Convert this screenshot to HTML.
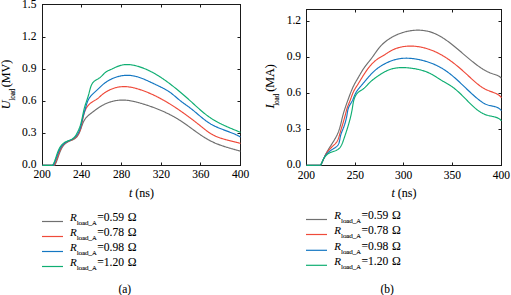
<!DOCTYPE html>
<html><head><meta charset="utf-8"><style>
html,body{margin:0;padding:0;background:#fff;}
body{width:511px;height:295px;overflow:hidden;position:relative;}
svg{position:absolute;left:0;top:0;}
text{font-family:"Liberation Serif",serif;fill:#000;stroke:#000;stroke-width:0.08px;}
</style></head><body>
<svg width="511" height="295" viewBox="0 0 511 295">
<rect x="42.5" y="4.5" width="198.0" height="161.0" fill="none" stroke="#1a1a1a" stroke-width="1"/>
<path d="M81.5,165.5 v-3 M81.5,4.5 v3" stroke="#1a1a1a" stroke-width="1"/>
<path d="M121.5,165.5 v-3 M121.5,4.5 v3" stroke="#1a1a1a" stroke-width="1"/>
<path d="M161.5,165.5 v-3 M161.5,4.5 v3" stroke="#1a1a1a" stroke-width="1"/>
<path d="M200.5,165.5 v-3 M200.5,4.5 v3" stroke="#1a1a1a" stroke-width="1"/>
<path d="M42.5,133.5 h3 M240.5,133.5 h-3" stroke="#1a1a1a" stroke-width="1"/>
<path d="M42.5,101.5 h3 M240.5,101.5 h-3" stroke="#1a1a1a" stroke-width="1"/>
<path d="M42.5,69.5 h3 M240.5,69.5 h-3" stroke="#1a1a1a" stroke-width="1"/>
<path d="M42.5,37.5 h3 M240.5,37.5 h-3" stroke="#1a1a1a" stroke-width="1"/>
<rect x="306.5" y="9.5" width="195.0" height="156.0" fill="none" stroke="#1a1a1a" stroke-width="1"/>
<path d="M355.5,165.5 v-3 M355.5,9.5 v3" stroke="#1a1a1a" stroke-width="1"/>
<path d="M403.5,165.5 v-3 M403.5,9.5 v3" stroke="#1a1a1a" stroke-width="1"/>
<path d="M452.5,165.5 v-3 M452.5,9.5 v3" stroke="#1a1a1a" stroke-width="1"/>
<path d="M306.5,129.5 h3 M501.5,129.5 h-3" stroke="#1a1a1a" stroke-width="1"/>
<path d="M306.5,93.5 h3 M501.5,93.5 h-3" stroke="#1a1a1a" stroke-width="1"/>
<path d="M306.5,57.5 h3 M501.5,57.5 h-3" stroke="#1a1a1a" stroke-width="1"/>
<path d="M306.5,21.5 h3 M501.5,21.5 h-3" stroke="#1a1a1a" stroke-width="1"/>
<path d="M42.50,165.30 L54.77,165.26 L55.07,164.73 L55.35,164.18 L55.62,163.62 L55.88,163.04 L56.14,162.46 L56.39,161.86 L56.63,161.25 L56.86,160.64 L57.09,160.01 L57.32,159.38 L57.54,158.75 L57.77,158.11 L57.99,157.46 L58.21,156.81 L58.43,156.17 L58.66,155.52 L58.88,154.87 L59.11,154.22 L59.35,153.58 L59.59,152.94 L59.83,152.30 L60.09,151.67 L60.35,151.05 L60.62,150.43 L60.90,149.82 L61.19,149.22 L61.49,148.64 L61.81,148.06 L62.14,147.50 L62.48,146.95 L62.84,146.42 L63.22,145.90 L63.61,145.40 L64.02,144.92 L64.45,144.45 L64.90,144.01 L65.37,143.59 L65.86,143.18 L66.38,142.81 L66.92,142.45 L67.48,142.12 L68.06,141.81 L68.66,141.52 L69.27,141.24 L69.89,140.97 L70.52,140.71 L71.14,140.44 L71.77,140.17 L72.39,139.90 L72.99,139.62 L73.59,139.32 L74.16,139.00 L74.72,138.66 L75.25,138.29 L75.75,137.90 L76.22,137.47 L76.66,137.01 L77.08,136.53 L77.47,136.02 L77.84,135.50 L78.19,134.95 L78.52,134.39 L78.83,133.81 L79.12,133.22 L79.40,132.62 L79.66,132.01 L79.92,131.39 L80.16,130.76 L80.40,130.12 L80.63,129.48 L80.85,128.84 L81.08,128.19 L81.30,127.55 L81.52,126.90 L81.74,126.25 L81.97,125.61 L82.20,124.97 L82.43,124.33 L82.68,123.70 L82.93,123.08 L83.20,122.47 L83.48,121.86 L83.77,121.27 L84.08,120.69 L84.41,120.12 L84.76,119.57 L85.12,119.03 L85.50,118.50 L85.89,117.99 L86.31,117.49 L86.74,117.01 L87.18,116.54 L87.65,116.09 L88.13,115.65 L88.62,115.22 L89.13,114.80 L89.64,114.39 L90.16,113.98 L90.68,113.58 L91.21,113.18 L91.73,112.78 L92.26,112.37 L92.79,111.97 L93.31,111.57 L93.84,111.17 L94.37,110.77 L94.90,110.37 L95.43,109.98 L95.96,109.58 L96.50,109.19 L97.04,108.81 L97.58,108.43 L98.12,108.05 L98.67,107.68 L99.22,107.32 L99.78,106.96 L100.34,106.60 L100.90,106.26 L101.47,105.92 L102.04,105.59 L102.62,105.27 L103.20,104.95 L103.79,104.65 L104.39,104.35 L104.99,104.07 L105.59,103.79 L106.20,103.52 L106.81,103.26 L107.43,103.01 L108.05,102.77 L108.68,102.54 L109.30,102.32 L109.93,102.11 L110.57,101.91 L111.21,101.72 L111.85,101.53 L112.49,101.36 L113.13,101.20 L113.78,101.05 L114.43,100.91 L115.08,100.78 L115.73,100.66 L116.38,100.55 L117.04,100.45 L117.69,100.36 L118.35,100.29 L119.01,100.22 L119.66,100.16 L120.32,100.12 L120.98,100.09 L121.64,100.07 L122.29,100.06 L122.95,100.06 L123.61,100.07 L124.26,100.09 L124.92,100.13 L125.57,100.17 L126.22,100.22 L126.88,100.28 L127.53,100.35 L128.18,100.43 L128.84,100.52 L129.49,100.61 L130.14,100.72 L130.79,100.83 L131.44,100.95 L132.09,101.07 L132.74,101.20 L133.38,101.34 L134.03,101.48 L134.68,101.63 L135.32,101.79 L135.97,101.95 L136.61,102.11 L137.26,102.28 L137.90,102.45 L138.54,102.63 L139.19,102.81 L139.83,102.99 L140.47,103.18 L141.11,103.37 L141.75,103.56 L142.39,103.75 L143.02,103.95 L143.66,104.14 L144.29,104.34 L144.93,104.54 L145.56,104.74 L146.20,104.95 L146.83,105.16 L147.46,105.36 L148.09,105.57 L148.72,105.79 L149.35,106.00 L149.98,106.22 L150.60,106.43 L151.23,106.66 L151.85,106.88 L152.47,107.10 L153.10,107.33 L153.72,107.56 L154.34,107.79 L154.96,108.02 L155.58,108.26 L156.19,108.50 L156.81,108.74 L157.42,108.98 L158.04,109.23 L158.65,109.48 L159.26,109.73 L159.87,109.98 L160.48,110.23 L161.08,110.49 L161.69,110.75 L162.29,111.02 L162.90,111.28 L163.50,111.55 L164.10,111.82 L164.70,112.09 L165.30,112.37 L165.89,112.65 L166.49,112.93 L167.08,113.22 L167.67,113.50 L168.27,113.79 L168.85,114.09 L169.44,114.38 L170.03,114.68 L170.61,114.98 L171.20,115.29 L171.78,115.60 L172.36,115.91 L172.94,116.22 L173.51,116.54 L174.09,116.86 L174.66,117.18 L175.23,117.51 L175.81,117.84 L176.37,118.17 L176.94,118.51 L177.51,118.85 L178.07,119.19 L178.63,119.54 L179.19,119.89 L179.75,120.24 L180.31,120.60 L180.86,120.96 L181.41,121.32 L181.97,121.68 L182.52,122.05 L183.06,122.42 L183.61,122.80 L184.16,123.17 L184.70,123.55 L185.25,123.93 L185.79,124.31 L186.33,124.70 L186.87,125.08 L187.41,125.47 L187.95,125.86 L188.49,126.25 L189.03,126.64 L189.57,127.03 L190.11,127.42 L190.64,127.82 L191.18,128.21 L191.72,128.60 L192.25,128.99 L192.79,129.39 L193.33,129.78 L193.87,130.17 L194.40,130.56 L194.94,130.95 L195.48,131.34 L196.02,131.73 L196.56,132.12 L197.10,132.50 L197.64,132.89 L198.19,133.27 L198.73,133.65 L199.28,134.03 L199.82,134.40 L200.37,134.78 L200.92,135.15 L201.47,135.52 L202.02,135.88 L202.57,136.25 L203.13,136.61 L203.68,136.96 L204.24,137.31 L204.80,137.66 L205.36,138.01 L205.93,138.35 L206.49,138.69 L207.06,139.02 L207.63,139.35 L208.20,139.67 L208.78,139.99 L209.36,140.31 L209.94,140.62 L210.52,140.92 L211.11,141.22 L211.70,141.51 L212.29,141.80 L212.89,142.08 L213.48,142.36 L214.08,142.63 L214.69,142.89 L215.29,143.16 L215.90,143.41 L216.51,143.66 L217.12,143.91 L217.74,144.15 L218.36,144.39 L218.97,144.63 L219.59,144.86 L220.22,145.09 L220.84,145.31 L221.47,145.53 L222.09,145.75 L222.72,145.96 L223.35,146.17 L223.98,146.38 L224.61,146.58 L225.25,146.78 L225.88,146.98 L226.51,147.18 L227.15,147.37 L227.79,147.57 L228.42,147.76 L229.06,147.94 L229.70,148.13 L230.33,148.32 L230.97,148.50 L231.61,148.68 L232.25,148.87 L232.89,149.05 L233.52,149.23 L234.16,149.41 L234.80,149.59 L235.44,149.76 L236.07,149.94 L236.71,150.12 L237.34,150.30 L237.98,150.48 L238.61,150.66 L239.24,150.83 L239.87,151.01 L240.50,151.19" stroke="#707070" stroke-width="1.15" fill="none" stroke-linejoin="round"/>
<path d="M42.50,165.30 L54.07,165.25 L54.38,164.69 L54.68,164.12 L54.97,163.52 L55.25,162.92 L55.52,162.30 L55.79,161.66 L56.04,161.02 L56.29,160.36 L56.53,159.70 L56.77,159.03 L57.01,158.35 L57.25,157.67 L57.48,156.98 L57.72,156.29 L57.95,155.60 L58.19,154.91 L58.44,154.22 L58.68,153.54 L58.94,152.85 L59.20,152.18 L59.47,151.50 L59.75,150.84 L60.04,150.19 L60.34,149.54 L60.65,148.91 L60.98,148.29 L61.32,147.68 L61.68,147.09 L62.05,146.52 L62.44,145.96 L62.85,145.43 L63.28,144.91 L63.74,144.42 L64.21,143.95 L64.71,143.50 L65.23,143.08 L65.78,142.68 L66.36,142.32 L66.96,141.98 L67.58,141.66 L68.22,141.36 L68.87,141.08 L69.53,140.80 L70.20,140.52 L70.86,140.24 L71.53,139.96 L72.18,139.67 L72.82,139.36 L73.44,139.02 L74.05,138.67 L74.63,138.28 L75.17,137.86 L75.69,137.40 L76.18,136.92 L76.64,136.40 L77.08,135.86 L77.49,135.30 L77.88,134.72 L78.24,134.13 L78.59,133.52 L78.91,132.91 L79.22,132.28 L79.50,131.64 L79.77,131.00 L80.03,130.34 L80.27,129.68 L80.49,129.01 L80.71,128.33 L80.91,127.65 L81.10,126.96 L81.28,126.26 L81.45,125.56 L81.62,124.86 L81.78,124.16 L81.93,123.45 L82.08,122.74 L82.23,122.03 L82.37,121.32 L82.51,120.61 L82.66,119.90 L82.80,119.19 L82.94,118.49 L83.09,117.78 L83.24,117.08 L83.40,116.39 L83.56,115.70 L83.73,115.01 L83.91,114.33 L84.10,113.66 L84.29,112.99 L84.50,112.34 L84.72,111.69 L84.95,111.05 L85.20,110.41 L85.47,109.79 L85.75,109.18 L86.04,108.59 L86.36,108.00 L86.69,107.43 L87.05,106.87 L87.43,106.33 L87.83,105.80 L88.25,105.28 L88.70,104.78 L89.17,104.30 L89.67,103.84 L90.20,103.39 L90.76,102.96 L91.34,102.55 L91.94,102.15 L92.55,101.76 L93.18,101.38 L93.81,101.00 L94.44,100.62 L95.07,100.25 L95.70,99.87 L96.31,99.48 L96.91,99.09 L97.49,98.68 L98.05,98.26 L98.58,97.82 L99.09,97.37 L99.59,96.92 L100.08,96.46 L100.58,96.00 L101.09,95.55 L101.61,95.10 L102.14,94.67 L102.69,94.24 L103.24,93.82 L103.81,93.40 L104.38,93.00 L104.97,92.60 L105.56,92.22 L106.16,91.84 L106.77,91.48 L107.39,91.12 L108.02,90.78 L108.65,90.44 L109.29,90.12 L109.94,89.81 L110.59,89.52 L111.25,89.23 L111.91,88.96 L112.58,88.70 L113.25,88.46 L113.92,88.22 L114.60,88.01 L115.28,87.81 L115.97,87.62 L116.66,87.45 L117.34,87.29 L118.03,87.15 L118.72,87.03 L119.41,86.92 L120.11,86.83 L120.80,86.76 L121.49,86.70 L122.18,86.65 L122.88,86.62 L123.57,86.61 L124.26,86.61 L124.95,86.62 L125.65,86.65 L126.34,86.69 L127.03,86.74 L127.72,86.80 L128.42,86.88 L129.11,86.97 L129.80,87.06 L130.49,87.17 L131.18,87.29 L131.87,87.42 L132.55,87.56 L133.24,87.71 L133.93,87.87 L134.61,88.03 L135.29,88.20 L135.98,88.39 L136.66,88.57 L137.34,88.77 L138.02,88.97 L138.69,89.18 L139.37,89.39 L140.04,89.61 L140.71,89.84 L141.39,90.07 L142.05,90.30 L142.72,90.54 L143.38,90.78 L144.05,91.03 L144.71,91.27 L145.37,91.53 L146.02,91.78 L146.68,92.04 L147.33,92.31 L147.98,92.58 L148.63,92.85 L149.28,93.12 L149.93,93.40 L150.57,93.68 L151.21,93.97 L151.86,94.25 L152.49,94.55 L153.13,94.84 L153.77,95.14 L154.40,95.44 L155.03,95.74 L155.67,96.05 L156.29,96.36 L156.92,96.68 L157.55,96.99 L158.17,97.31 L158.80,97.63 L159.42,97.96 L160.04,98.29 L160.66,98.62 L161.27,98.95 L161.89,99.29 L162.50,99.63 L163.11,99.97 L163.73,100.31 L164.33,100.66 L164.94,101.01 L165.55,101.36 L166.16,101.71 L166.76,102.07 L167.36,102.42 L167.96,102.79 L168.56,103.15 L169.16,103.51 L169.76,103.88 L170.36,104.25 L170.95,104.62 L171.54,104.99 L172.14,105.37 L172.73,105.75 L173.32,106.12 L173.91,106.51 L174.50,106.89 L175.08,107.27 L175.67,107.66 L176.25,108.05 L176.84,108.44 L177.42,108.83 L178.00,109.22 L178.58,109.61 L179.16,110.01 L179.74,110.41 L180.31,110.80 L180.89,111.20 L181.46,111.60 L182.04,112.01 L182.61,112.41 L183.18,112.82 L183.75,113.22 L184.32,113.63 L184.89,114.04 L185.46,114.45 L186.03,114.86 L186.60,115.27 L187.16,115.69 L187.73,116.10 L188.29,116.52 L188.86,116.93 L189.42,117.35 L189.98,117.77 L190.54,118.19 L191.10,118.62 L191.66,119.04 L192.22,119.46 L192.78,119.89 L193.34,120.31 L193.90,120.74 L194.45,121.17 L195.01,121.60 L195.57,122.03 L196.12,122.46 L196.68,122.89 L197.23,123.33 L197.78,123.76 L198.34,124.20 L198.89,124.63 L199.44,125.07 L199.99,125.51 L200.54,125.95 L201.09,126.39 L201.64,126.83 L202.19,127.27 L202.74,127.71 L203.29,128.16 L203.84,128.60 L204.39,129.04 L204.95,129.47 L205.50,129.91 L206.06,130.34 L206.62,130.76 L207.18,131.18 L207.74,131.60 L208.31,132.01 L208.89,132.41 L209.47,132.80 L210.05,133.18 L210.64,133.56 L211.23,133.92 L211.83,134.27 L212.44,134.61 L213.05,134.94 L213.67,135.26 L214.29,135.57 L214.92,135.87 L215.56,136.16 L216.20,136.44 L216.84,136.71 L217.49,136.97 L218.14,137.23 L218.80,137.48 L219.46,137.72 L220.12,137.95 L220.79,138.18 L221.46,138.40 L222.14,138.61 L222.81,138.82 L223.49,139.02 L224.17,139.22 L224.85,139.41 L225.53,139.60 L226.22,139.78 L226.90,139.97 L227.59,140.14 L228.28,140.32 L228.97,140.49 L229.65,140.66 L230.34,140.83 L231.03,141.00 L231.72,141.17 L232.40,141.34 L233.09,141.50 L233.77,141.67 L234.46,141.83 L235.14,142.00 L235.82,142.17 L236.49,142.34 L237.17,142.51 L237.84,142.68 L238.51,142.86 L239.17,143.04 L239.84,143.22 L240.49,143.41" stroke="#ef4a3a" stroke-width="1.15" fill="none" stroke-linejoin="round"/>
<path d="M42.50,165.30 L53.41,165.30 L53.71,164.68 L54.00,164.05 L54.28,163.41 L54.56,162.75 L54.83,162.08 L55.09,161.41 L55.34,160.72 L55.60,160.03 L55.85,159.33 L56.10,158.62 L56.34,157.92 L56.59,157.20 L56.84,156.49 L57.10,155.78 L57.35,155.07 L57.61,154.36 L57.88,153.65 L58.15,152.95 L58.44,152.26 L58.73,151.57 L59.03,150.89 L59.34,150.22 L59.66,149.56 L60.00,148.92 L60.35,148.28 L60.72,147.66 L61.10,147.06 L61.50,146.48 L61.92,145.91 L62.36,145.36 L62.82,144.83 L63.31,144.33 L63.81,143.84 L64.34,143.39 L64.89,142.95 L65.47,142.55 L66.08,142.17 L66.71,141.81 L67.36,141.48 L68.02,141.15 L68.69,140.84 L69.37,140.53 L70.05,140.22 L70.73,139.90 L71.40,139.58 L72.05,139.24 L72.70,138.88 L73.32,138.50 L73.92,138.09 L74.48,137.64 L75.02,137.17 L75.54,136.66 L76.02,136.13 L76.48,135.58 L76.92,135.00 L77.32,134.41 L77.71,133.80 L78.07,133.18 L78.42,132.54 L78.74,131.89 L79.04,131.23 L79.32,130.56 L79.59,129.88 L79.85,129.20 L80.08,128.50 L80.31,127.80 L80.53,127.09 L80.73,126.37 L80.92,125.65 L81.11,124.93 L81.29,124.20 L81.46,123.47 L81.63,122.74 L81.80,122.01 L81.96,121.27 L82.12,120.54 L82.29,119.81 L82.45,119.08 L82.62,118.36 L82.79,117.64 L82.97,116.92 L83.15,116.21 L83.34,115.51 L83.53,114.81 L83.74,114.11 L83.94,113.42 L84.15,112.73 L84.36,112.04 L84.57,111.35 L84.78,110.66 L84.99,109.96 L85.19,109.26 L85.39,108.55 L85.58,107.84 L85.78,107.13 L85.97,106.41 L86.17,105.70 L86.38,104.98 L86.59,104.27 L86.81,103.57 L87.04,102.87 L87.29,102.18 L87.55,101.50 L87.83,100.83 L88.13,100.17 L88.45,99.52 L88.80,98.89 L89.17,98.28 L89.56,97.68 L89.98,97.10 L90.43,96.54 L90.89,95.98 L91.37,95.44 L91.86,94.91 L92.37,94.39 L92.89,93.87 L93.42,93.36 L93.96,92.86 L94.50,92.36 L95.05,91.86 L95.59,91.36 L96.14,90.86 L96.68,90.36 L97.22,89.86 L97.75,89.36 L98.28,88.85 L98.81,88.33 L99.33,87.82 L99.85,87.31 L100.38,86.81 L100.90,86.31 L101.44,85.81 L101.98,85.32 L102.53,84.84 L103.09,84.37 L103.66,83.91 L104.23,83.46 L104.82,83.02 L105.42,82.58 L106.02,82.16 L106.63,81.75 L107.25,81.36 L107.88,80.97 L108.51,80.59 L109.16,80.23 L109.80,79.87 L110.46,79.53 L111.12,79.20 L111.79,78.88 L112.46,78.58 L113.14,78.28 L113.82,78.00 L114.50,77.74 L115.20,77.48 L115.89,77.24 L116.59,77.01 L117.29,76.79 L118.00,76.59 L118.71,76.41 L119.42,76.23 L120.14,76.07 L120.85,75.93 L121.57,75.80 L122.29,75.68 L123.01,75.58 L123.73,75.49 L124.46,75.42 L125.18,75.37 L125.91,75.33 L126.63,75.30 L127.35,75.30 L128.08,75.30 L128.80,75.33 L129.52,75.37 L130.24,75.43 L130.96,75.50 L131.67,75.59 L132.39,75.70 L133.10,75.82 L133.81,75.95 L134.52,76.10 L135.23,76.26 L135.93,76.44 L136.64,76.62 L137.34,76.82 L138.04,77.03 L138.74,77.25 L139.44,77.48 L140.14,77.72 L140.84,77.97 L141.53,78.23 L142.22,78.49 L142.92,78.77 L143.61,79.05 L144.29,79.33 L144.98,79.63 L145.67,79.92 L146.35,80.23 L147.04,80.53 L147.72,80.84 L148.40,81.16 L149.08,81.47 L149.76,81.79 L150.44,82.11 L151.12,82.43 L151.79,82.75 L152.47,83.07 L153.14,83.39 L153.81,83.71 L154.48,84.03 L155.15,84.35 L155.82,84.66 L156.49,84.97 L157.15,85.28 L157.82,85.60 L158.48,85.91 L159.14,86.22 L159.79,86.54 L160.45,86.86 L161.10,87.17 L161.75,87.50 L162.40,87.82 L163.04,88.15 L163.68,88.49 L164.32,88.83 L164.95,89.18 L165.58,89.53 L166.20,89.89 L166.82,90.26 L167.44,90.63 L168.05,91.01 L168.66,91.41 L169.26,91.81 L169.86,92.22 L170.45,92.64 L171.03,93.07 L171.62,93.52 L172.19,93.97 L172.77,94.43 L173.34,94.89 L173.91,95.36 L174.47,95.84 L175.04,96.31 L175.60,96.79 L176.16,97.28 L176.72,97.76 L177.29,98.24 L177.85,98.72 L178.42,99.19 L178.99,99.67 L179.56,100.13 L180.13,100.59 L180.71,101.05 L181.29,101.50 L181.87,101.94 L182.45,102.38 L183.04,102.81 L183.63,103.24 L184.22,103.67 L184.81,104.09 L185.40,104.52 L186.00,104.94 L186.59,105.37 L187.18,105.79 L187.77,106.22 L188.36,106.64 L188.95,107.07 L189.53,107.51 L190.12,107.95 L190.70,108.39 L191.28,108.84 L191.85,109.29 L192.43,109.75 L193.00,110.21 L193.57,110.67 L194.14,111.14 L194.70,111.61 L195.27,112.08 L195.83,112.56 L196.40,113.03 L196.96,113.51 L197.53,113.98 L198.09,114.46 L198.65,114.94 L199.22,115.41 L199.78,115.89 L200.35,116.36 L200.92,116.83 L201.49,117.30 L202.06,117.77 L202.63,118.23 L203.21,118.69 L203.78,119.14 L204.36,119.59 L204.94,120.04 L205.53,120.48 L206.12,120.92 L206.71,121.34 L207.31,121.77 L207.91,122.18 L208.51,122.59 L209.12,122.99 L209.74,123.38 L210.35,123.76 L210.98,124.14 L211.61,124.50 L212.24,124.86 L212.88,125.20 L213.53,125.54 L214.18,125.87 L214.83,126.19 L215.49,126.50 L216.15,126.81 L216.82,127.11 L217.49,127.40 L218.16,127.69 L218.84,127.97 L219.52,128.25 L220.20,128.52 L220.88,128.79 L221.57,129.06 L222.26,129.32 L222.95,129.58 L223.64,129.84 L224.33,130.10 L225.02,130.36 L225.71,130.61 L226.40,130.87 L227.09,131.12 L227.79,131.38 L228.48,131.64 L229.17,131.89 L229.85,132.16 L230.54,132.42 L231.23,132.69 L231.91,132.96 L232.59,133.23 L233.27,133.51 L233.95,133.79 L234.62,134.08 L235.29,134.38 L235.96,134.68 L236.62,134.98 L237.28,135.30 L237.93,135.62 L238.58,135.95 L239.23,136.29 L239.87,136.63 L240.50,136.99" stroke="#1477c2" stroke-width="1.15" fill="none" stroke-linejoin="round"/>
<path d="M42.50,165.30 L52.50,165.30 L52.91,164.63 L53.28,163.96 L53.64,163.27 L53.97,162.58 L54.28,161.88 L54.57,161.17 L54.85,160.46 L55.11,159.75 L55.37,159.03 L55.61,158.30 L55.85,157.57 L56.09,156.84 L56.32,156.10 L56.56,155.36 L56.81,154.62 L57.06,153.88 L57.32,153.14 L57.59,152.40 L57.87,151.66 L58.17,150.92 L58.49,150.19 L58.82,149.47 L59.17,148.77 L59.54,148.07 L59.92,147.40 L60.33,146.74 L60.77,146.11 L61.23,145.49 L61.71,144.91 L62.22,144.35 L62.75,143.83 L63.32,143.34 L63.91,142.88 L64.54,142.46 L65.20,142.08 L65.88,141.74 L66.59,141.42 L67.31,141.13 L68.05,140.84 L68.78,140.56 L69.51,140.28 L70.24,139.98 L70.95,139.67 L71.63,139.33 L72.29,138.95 L72.92,138.54 L73.50,138.07 L74.05,137.55 L74.56,136.99 L75.03,136.39 L75.48,135.76 L75.90,135.10 L76.30,134.43 L76.69,133.75 L77.07,133.06 L77.44,132.37 L77.79,131.67 L78.13,130.97 L78.46,130.26 L78.78,129.55 L79.08,128.83 L79.37,128.11 L79.65,127.38 L79.91,126.65 L80.16,125.92 L80.40,125.18 L80.62,124.43 L80.84,123.69 L81.04,122.94 L81.23,122.19 L81.42,121.43 L81.60,120.68 L81.77,119.92 L81.94,119.16 L82.10,118.40 L82.26,117.64 L82.42,116.88 L82.57,116.12 L82.72,115.37 L82.87,114.61 L83.03,113.85 L83.18,113.09 L83.34,112.34 L83.50,111.59 L83.67,110.84 L83.84,110.10 L84.02,109.35 L84.20,108.62 L84.39,107.88 L84.60,107.15 L84.81,106.43 L85.03,105.70 L85.25,104.98 L85.49,104.27 L85.72,103.55 L85.97,102.83 L86.21,102.12 L86.46,101.40 L86.71,100.68 L86.95,99.96 L87.20,99.23 L87.45,98.50 L87.69,97.77 L87.93,97.03 L88.16,96.29 L88.39,95.53 L88.61,94.77 L88.82,94.00 L89.03,93.22 L89.22,92.44 L89.42,91.65 L89.62,90.86 L89.81,90.08 L90.02,89.29 L90.24,88.52 L90.46,87.75 L90.71,87.00 L90.97,86.27 L91.26,85.55 L91.57,84.86 L91.91,84.19 L92.28,83.55 L92.68,82.94 L93.12,82.36 L93.61,81.82 L94.13,81.31 L94.71,80.85 L95.32,80.42 L95.96,80.02 L96.62,79.64 L97.29,79.26 L97.95,78.89 L98.61,78.50 L99.25,78.10 L99.87,77.66 L100.46,77.19 L101.02,76.69 L101.57,76.16 L102.10,75.62 L102.63,75.07 L103.16,74.52 L103.69,73.98 L104.23,73.45 L104.78,72.93 L105.35,72.44 L105.95,71.99 L106.58,71.57 L107.23,71.18 L107.91,70.83 L108.60,70.49 L109.30,70.17 L110.01,69.86 L110.72,69.55 L111.43,69.25 L112.14,68.93 L112.84,68.60 L113.54,68.27 L114.24,67.93 L114.93,67.60 L115.63,67.27 L116.33,66.95 L117.04,66.65 L117.76,66.36 L118.49,66.09 L119.22,65.84 L119.95,65.61 L120.70,65.40 L121.45,65.21 L122.20,65.05 L122.95,64.90 L123.71,64.78 L124.47,64.69 L125.24,64.62 L126.00,64.57 L126.77,64.55 L127.53,64.55 L128.30,64.57 L129.07,64.61 L129.84,64.68 L130.61,64.76 L131.37,64.86 L132.14,64.97 L132.91,65.10 L133.67,65.25 L134.43,65.41 L135.19,65.59 L135.95,65.77 L136.70,65.97 L137.45,66.18 L138.20,66.40 L138.94,66.62 L139.68,66.86 L140.42,67.10 L141.15,67.35 L141.88,67.61 L142.61,67.88 L143.33,68.15 L144.05,68.43 L144.77,68.72 L145.48,69.02 L146.19,69.32 L146.90,69.63 L147.60,69.95 L148.30,70.27 L148.99,70.61 L149.69,70.94 L150.38,71.29 L151.07,71.64 L151.75,71.99 L152.43,72.35 L153.11,72.72 L153.79,73.09 L154.46,73.47 L155.13,73.85 L155.80,74.24 L156.46,74.64 L157.12,75.03 L157.78,75.44 L158.44,75.84 L159.09,76.26 L159.74,76.67 L160.39,77.09 L161.04,77.52 L161.68,77.95 L162.33,78.38 L162.97,78.81 L163.60,79.25 L164.24,79.69 L164.87,80.14 L165.50,80.59 L166.13,81.04 L166.76,81.49 L167.38,81.95 L168.01,82.41 L168.63,82.87 L169.25,83.33 L169.86,83.80 L170.48,84.27 L171.09,84.73 L171.70,85.21 L172.32,85.68 L172.92,86.15 L173.53,86.63 L174.14,87.11 L174.74,87.59 L175.34,88.07 L175.94,88.55 L176.54,89.03 L177.14,89.52 L177.74,90.01 L178.33,90.50 L178.92,90.99 L179.52,91.48 L180.11,91.97 L180.70,92.47 L181.29,92.97 L181.87,93.46 L182.46,93.96 L183.04,94.47 L183.63,94.97 L184.21,95.47 L184.79,95.98 L185.38,96.49 L185.96,97.00 L186.53,97.51 L187.11,98.02 L187.69,98.53 L188.27,99.05 L188.84,99.56 L189.42,100.08 L189.99,100.60 L190.57,101.12 L191.14,101.64 L191.71,102.16 L192.29,102.68 L192.86,103.21 L193.43,103.73 L194.00,104.25 L194.58,104.78 L195.15,105.30 L195.72,105.82 L196.30,106.35 L196.87,106.87 L197.45,107.39 L198.03,107.91 L198.60,108.42 L199.18,108.94 L199.77,109.45 L200.35,109.96 L200.93,110.47 L201.52,110.97 L202.11,111.47 L202.70,111.97 L203.30,112.46 L203.89,112.95 L204.49,113.44 L205.09,113.92 L205.70,114.40 L206.31,114.87 L206.92,115.34 L207.53,115.80 L208.15,116.26 L208.78,116.71 L209.40,117.15 L210.03,117.59 L210.67,118.02 L211.31,118.45 L211.95,118.87 L212.60,119.28 L213.25,119.68 L213.91,120.08 L214.57,120.47 L215.23,120.86 L215.90,121.24 L216.57,121.61 L217.25,121.98 L217.93,122.35 L218.61,122.70 L219.29,123.06 L219.98,123.41 L220.67,123.75 L221.37,124.09 L222.06,124.43 L222.76,124.76 L223.46,125.09 L224.16,125.41 L224.87,125.73 L225.57,126.05 L226.28,126.37 L226.99,126.68 L227.70,126.99 L228.41,127.30 L229.12,127.60 L229.83,127.91 L230.54,128.21 L231.26,128.51 L231.97,128.81 L232.68,129.11 L233.40,129.41 L234.11,129.70 L234.83,130.00 L235.54,130.30 L236.25,130.59 L236.96,130.89 L237.67,131.19 L238.39,131.48 L239.09,131.78 L239.80,132.08 L240.51,132.38" stroke="#0fae72" stroke-width="1.15" fill="none" stroke-linejoin="round"/>
<path d="M306.50,165.30 L320.66,165.28 L321.02,164.58 L321.37,163.87 L321.71,163.16 L322.04,162.45 L322.36,161.73 L322.68,161.01 L323.00,160.29 L323.32,159.57 L323.63,158.85 L323.95,158.13 L324.26,157.42 L324.58,156.70 L324.91,155.99 L325.24,155.28 L325.58,154.57 L325.93,153.87 L326.29,153.18 L326.66,152.49 L327.04,151.80 L327.43,151.12 L327.82,150.44 L328.22,149.76 L328.63,149.09 L329.04,148.42 L329.46,147.75 L329.88,147.08 L330.30,146.42 L330.73,145.75 L331.15,145.09 L331.58,144.43 L332.00,143.76 L332.42,143.10 L332.84,142.43 L333.26,141.77 L333.68,141.10 L334.09,140.43 L334.49,139.76 L334.89,139.08 L335.28,138.40 L335.66,137.72 L336.03,137.04 L336.40,136.35 L336.75,135.65 L337.09,134.96 L337.43,134.25 L337.74,133.54 L338.05,132.83 L338.34,132.10 L338.62,131.38 L338.88,130.64 L339.13,129.90 L339.37,129.16 L339.61,128.41 L339.83,127.66 L340.04,126.90 L340.25,126.14 L340.45,125.38 L340.64,124.61 L340.83,123.84 L341.02,123.07 L341.20,122.30 L341.39,121.53 L341.57,120.76 L341.75,119.99 L341.93,119.21 L342.11,118.44 L342.30,117.67 L342.49,116.90 L342.68,116.13 L342.88,115.37 L343.08,114.60 L343.29,113.84 L343.51,113.08 L343.73,112.33 L343.96,111.57 L344.19,110.82 L344.43,110.07 L344.67,109.33 L344.92,108.58 L345.17,107.84 L345.42,107.09 L345.68,106.35 L345.94,105.61 L346.20,104.87 L346.46,104.13 L346.72,103.39 L346.99,102.65 L347.26,101.92 L347.52,101.18 L347.79,100.44 L348.06,99.71 L348.32,98.97 L348.59,98.23 L348.86,97.50 L349.13,96.76 L349.40,96.03 L349.67,95.29 L349.95,94.56 L350.22,93.83 L350.51,93.10 L350.79,92.37 L351.08,91.64 L351.37,90.91 L351.67,90.19 L351.97,89.47 L352.28,88.75 L352.60,88.04 L352.92,87.32 L353.25,86.61 L353.59,85.91 L353.94,85.20 L354.29,84.50 L354.65,83.81 L355.02,83.11 L355.41,82.43 L355.80,81.74 L356.20,81.06 L356.60,80.38 L357.00,79.70 L357.41,79.02 L357.81,78.34 L358.20,77.65 L358.59,76.97 L358.98,76.28 L359.37,75.60 L359.76,74.91 L360.16,74.23 L360.55,73.54 L360.95,72.86 L361.35,72.19 L361.75,71.52 L362.16,70.85 L362.58,70.18 L363.00,69.52 L363.43,68.87 L363.87,68.22 L364.32,67.58 L364.78,66.95 L365.24,66.32 L365.71,65.70 L366.19,65.07 L366.67,64.46 L367.16,63.84 L367.64,63.23 L368.13,62.61 L368.62,62.00 L369.11,61.38 L369.60,60.77 L370.09,60.15 L370.57,59.53 L371.06,58.91 L371.53,58.28 L372.01,57.65 L372.47,57.01 L372.94,56.37 L373.40,55.73 L373.85,55.08 L374.31,54.43 L374.76,53.78 L375.21,53.14 L375.67,52.49 L376.12,51.84 L376.58,51.20 L377.04,50.56 L377.51,49.93 L377.98,49.30 L378.46,48.68 L378.95,48.07 L379.45,47.46 L379.95,46.86 L380.47,46.28 L381.00,45.70 L381.53,45.14 L382.08,44.58 L382.65,44.04 L383.22,43.51 L383.80,42.99 L384.39,42.48 L384.99,41.97 L385.60,41.48 L386.22,41.00 L386.85,40.53 L387.49,40.07 L388.13,39.62 L388.78,39.18 L389.44,38.75 L390.11,38.33 L390.78,37.92 L391.46,37.51 L392.15,37.12 L392.85,36.74 L393.55,36.36 L394.25,36.00 L394.96,35.64 L395.68,35.30 L396.40,34.97 L397.13,34.64 L397.86,34.33 L398.60,34.03 L399.34,33.73 L400.08,33.45 L400.83,33.18 L401.58,32.92 L402.34,32.67 L403.10,32.44 L403.86,32.21 L404.63,32.00 L405.40,31.79 L406.17,31.60 L406.94,31.42 L407.72,31.25 L408.50,31.09 L409.28,30.95 L410.06,30.81 L410.84,30.69 L411.62,30.58 L412.41,30.49 L413.19,30.40 L413.97,30.33 L414.76,30.27 L415.55,30.23 L416.33,30.19 L417.12,30.17 L417.90,30.16 L418.68,30.17 L419.47,30.19 L420.25,30.22 L421.03,30.27 L421.80,30.32 L422.58,30.40 L423.36,30.48 L424.13,30.58 L424.90,30.70 L425.66,30.82 L426.43,30.97 L427.19,31.12 L427.95,31.29 L428.70,31.48 L429.45,31.68 L430.20,31.89 L430.94,32.12 L431.68,32.36 L432.41,32.62 L433.14,32.89 L433.86,33.18 L434.58,33.48 L435.30,33.79 L436.01,34.11 L436.72,34.45 L437.43,34.79 L438.13,35.15 L438.82,35.52 L439.52,35.90 L440.21,36.29 L440.89,36.69 L441.57,37.09 L442.25,37.51 L442.92,37.93 L443.59,38.36 L444.26,38.80 L444.92,39.25 L445.58,39.70 L446.24,40.16 L446.89,40.63 L447.54,41.10 L448.19,41.57 L448.83,42.05 L449.47,42.53 L450.10,43.02 L450.74,43.51 L451.37,44.00 L451.99,44.50 L452.62,44.99 L453.24,45.49 L453.86,45.99 L454.47,46.50 L455.08,47.00 L455.69,47.50 L456.30,48.00 L456.91,48.51 L457.51,49.01 L458.11,49.52 L458.71,50.03 L459.31,50.53 L459.91,51.04 L460.51,51.55 L461.10,52.06 L461.70,52.56 L462.29,53.07 L462.88,53.58 L463.48,54.08 L464.07,54.59 L464.66,55.10 L465.26,55.60 L465.85,56.10 L466.44,56.61 L467.04,57.11 L467.64,57.61 L468.23,58.11 L468.83,58.61 L469.43,59.11 L470.03,59.61 L470.63,60.10 L471.24,60.60 L471.85,61.09 L472.45,61.58 L473.07,62.07 L473.68,62.56 L474.30,63.04 L474.92,63.53 L475.54,64.01 L476.16,64.48 L476.79,64.96 L477.43,65.43 L478.06,65.89 L478.70,66.35 L479.34,66.81 L479.99,67.26 L480.64,67.70 L481.30,68.14 L481.96,68.56 L482.62,68.98 L483.29,69.40 L483.97,69.80 L484.65,70.19 L485.33,70.58 L486.02,70.95 L486.71,71.31 L487.41,71.67 L488.12,72.00 L488.83,72.33 L489.54,72.65 L490.27,72.95 L491.00,73.23 L491.73,73.51 L492.47,73.76 L493.22,74.01 L493.97,74.24 L494.72,74.48 L495.47,74.72 L496.21,74.97 L496.94,75.25 L497.66,75.55 L498.37,75.90 L499.05,76.28 L499.71,76.72 L500.35,77.22 L500.95,77.79 L501.53,78.43" stroke="#707070" stroke-width="1.15" fill="none" stroke-linejoin="round"/>
<path d="M306.50,165.30 L320.65,165.26 L321.01,164.61 L321.35,163.94 L321.69,163.26 L322.01,162.58 L322.32,161.88 L322.63,161.18 L322.94,160.48 L323.24,159.77 L323.54,159.06 L323.85,158.36 L324.17,157.66 L324.49,156.96 L324.82,156.27 L325.16,155.59 L325.52,154.92 L325.90,154.26 L326.30,153.61 L326.71,152.98 L327.14,152.35 L327.59,151.74 L328.05,151.15 L328.52,150.56 L329.01,149.98 L329.51,149.41 L330.02,148.85 L330.54,148.30 L331.07,147.76 L331.61,147.22 L332.16,146.69 L332.71,146.17 L333.27,145.65 L333.82,145.13 L334.37,144.61 L334.91,144.09 L335.43,143.55 L335.93,143.00 L336.39,142.42 L336.81,141.83 L337.20,141.20 L337.55,140.56 L337.87,139.89 L338.15,139.20 L338.42,138.50 L338.67,137.78 L338.89,137.06 L339.11,136.32 L339.32,135.59 L339.53,134.85 L339.74,134.11 L339.95,133.37 L340.17,132.63 L340.38,131.89 L340.60,131.15 L340.82,130.42 L341.04,129.68 L341.25,128.95 L341.47,128.21 L341.69,127.48 L341.91,126.75 L342.13,126.02 L342.35,125.28 L342.57,124.55 L342.79,123.82 L343.01,123.09 L343.22,122.36 L343.44,121.62 L343.65,120.89 L343.86,120.16 L344.07,119.43 L344.28,118.70 L344.48,117.96 L344.68,117.23 L344.88,116.50 L345.08,115.76 L345.27,115.03 L345.46,114.29 L345.65,113.56 L345.83,112.82 L346.02,112.09 L346.21,111.35 L346.41,110.62 L346.61,109.89 L346.81,109.17 L347.03,108.44 L347.26,107.72 L347.50,107.01 L347.75,106.30 L348.02,105.59 L348.30,104.89 L348.59,104.19 L348.89,103.50 L349.18,102.80 L349.48,102.10 L349.76,101.40 L350.04,100.69 L350.31,99.98 L350.57,99.26 L350.83,98.55 L351.08,97.83 L351.34,97.11 L351.59,96.40 L351.85,95.68 L352.12,94.97 L352.39,94.26 L352.67,93.56 L352.96,92.86 L353.27,92.17 L353.59,91.49 L353.93,90.81 L354.29,90.15 L354.66,89.49 L355.04,88.83 L355.43,88.18 L355.84,87.54 L356.24,86.90 L356.65,86.26 L357.06,85.61 L357.47,84.97 L357.88,84.33 L358.28,83.68 L358.68,83.04 L359.08,82.39 L359.48,81.74 L359.87,81.09 L360.27,80.44 L360.66,79.79 L361.06,79.14 L361.45,78.49 L361.85,77.84 L362.24,77.20 L362.64,76.55 L363.04,75.90 L363.45,75.26 L363.86,74.61 L364.27,73.97 L364.68,73.33 L365.10,72.70 L365.52,72.06 L365.95,71.43 L366.39,70.80 L366.83,70.18 L367.28,69.56 L367.73,68.94 L368.19,68.33 L368.66,67.72 L369.14,67.12 L369.62,66.52 L370.11,65.94 L370.61,65.35 L371.12,64.78 L371.64,64.22 L372.16,63.66 L372.69,63.12 L373.23,62.59 L373.79,62.06 L374.34,61.55 L374.91,61.05 L375.49,60.57 L376.08,60.09 L376.68,59.64 L377.28,59.19 L377.90,58.76 L378.53,58.35 L379.17,57.95 L379.81,57.56 L380.46,57.18 L381.12,56.81 L381.78,56.43 L382.44,56.06 L383.10,55.68 L383.76,55.29 L384.42,54.89 L385.07,54.48 L385.72,54.06 L386.37,53.63 L387.02,53.21 L387.67,52.78 L388.32,52.36 L388.98,51.94 L389.63,51.54 L390.30,51.15 L390.97,50.77 L391.64,50.41 L392.33,50.07 L393.01,49.74 L393.70,49.43 L394.40,49.13 L395.10,48.84 L395.81,48.57 L396.52,48.32 L397.24,48.08 L397.96,47.86 L398.68,47.64 L399.41,47.45 L400.14,47.26 L400.87,47.10 L401.61,46.94 L402.35,46.80 L403.09,46.67 L403.84,46.55 L404.58,46.45 L405.33,46.36 L406.09,46.28 L406.84,46.22 L407.60,46.17 L408.35,46.13 L409.11,46.10 L409.87,46.08 L410.63,46.08 L411.39,46.09 L412.16,46.11 L412.92,46.14 L413.68,46.18 L414.44,46.23 L415.21,46.30 L415.97,46.37 L416.73,46.46 L417.49,46.56 L418.25,46.66 L419.01,46.78 L419.77,46.91 L420.53,47.05 L421.28,47.19 L422.04,47.35 L422.79,47.52 L423.54,47.69 L424.28,47.88 L425.03,48.07 L425.77,48.28 L426.51,48.49 L427.24,48.71 L427.98,48.94 L428.71,49.18 L429.43,49.42 L430.15,49.68 L430.87,49.94 L431.58,50.21 L432.29,50.49 L433.00,50.77 L433.70,51.07 L434.40,51.37 L435.09,51.67 L435.78,51.99 L436.47,52.31 L437.15,52.64 L437.83,52.97 L438.50,53.32 L439.17,53.66 L439.84,54.02 L440.50,54.38 L441.16,54.75 L441.82,55.12 L442.47,55.50 L443.12,55.88 L443.77,56.28 L444.42,56.67 L445.06,57.07 L445.69,57.48 L446.33,57.89 L446.96,58.31 L447.59,58.73 L448.22,59.16 L448.84,59.59 L449.46,60.03 L450.08,60.47 L450.70,60.91 L451.31,61.36 L451.92,61.82 L452.53,62.27 L453.14,62.74 L453.74,63.20 L454.34,63.67 L454.94,64.14 L455.54,64.62 L456.13,65.10 L456.73,65.58 L457.32,66.06 L457.91,66.55 L458.49,67.04 L459.08,67.54 L459.66,68.03 L460.24,68.53 L460.83,69.03 L461.40,69.54 L461.98,70.04 L462.56,70.55 L463.13,71.06 L463.71,71.57 L464.28,72.08 L464.85,72.60 L465.42,73.11 L465.99,73.63 L466.55,74.15 L467.12,74.67 L467.68,75.19 L468.25,75.71 L468.81,76.23 L469.37,76.75 L469.94,77.27 L470.50,77.79 L471.06,78.32 L471.62,78.84 L472.19,79.35 L472.75,79.87 L473.32,80.38 L473.89,80.89 L474.46,81.40 L475.03,81.90 L475.60,82.39 L476.18,82.88 L476.77,83.37 L477.35,83.85 L477.94,84.32 L478.54,84.79 L479.14,85.24 L479.74,85.69 L480.36,86.13 L480.97,86.56 L481.60,86.98 L482.23,87.40 L482.86,87.80 L483.51,88.18 L484.16,88.56 L484.82,88.93 L485.49,89.28 L486.16,89.62 L486.85,89.94 L487.55,90.25 L488.25,90.55 L488.97,90.83 L489.69,91.11 L490.41,91.37 L491.14,91.63 L491.87,91.89 L492.60,92.15 L493.32,92.42 L494.04,92.69 L494.75,92.97 L495.46,93.27 L496.15,93.58 L496.83,93.92 L497.49,94.27 L498.13,94.66 L498.76,95.07 L499.36,95.51 L499.94,95.99 L500.49,96.51 L501.01,97.06 L501.51,97.67" stroke="#ef4a3a" stroke-width="1.15" fill="none" stroke-linejoin="round"/>
<path d="M306.50,165.30 L320.67,165.26 L321.00,164.64 L321.31,163.99 L321.62,163.33 L321.93,162.66 L322.23,161.98 L322.53,161.29 L322.83,160.60 L323.13,159.91 L323.45,159.22 L323.77,158.53 L324.10,157.86 L324.45,157.19 L324.81,156.55 L325.20,155.91 L325.60,155.30 L326.03,154.72 L326.49,154.15 L326.97,153.61 L327.47,153.10 L328.00,152.60 L328.54,152.12 L329.11,151.66 L329.69,151.21 L330.28,150.77 L330.89,150.35 L331.52,149.94 L332.15,149.53 L332.79,149.13 L333.44,148.73 L334.09,148.33 L334.73,147.92 L335.36,147.50 L335.96,147.07 L336.53,146.61 L337.05,146.12 L337.54,145.61 L337.97,145.06 L338.33,144.46 L338.65,143.83 L338.92,143.17 L339.14,142.48 L339.34,141.77 L339.50,141.04 L339.65,140.29 L339.79,139.54 L339.92,138.78 L340.05,138.02 L340.19,137.26 L340.35,136.51 L340.53,135.77 L340.73,135.05 L340.95,134.33 L341.19,133.62 L341.43,132.92 L341.69,132.23 L341.96,131.54 L342.23,130.86 L342.51,130.17 L342.79,129.49 L343.06,128.81 L343.34,128.13 L343.60,127.44 L343.86,126.76 L344.11,126.06 L344.35,125.37 L344.59,124.67 L344.81,123.97 L345.03,123.26 L345.24,122.56 L345.44,121.84 L345.63,121.13 L345.82,120.41 L346.00,119.69 L346.17,118.97 L346.33,118.24 L346.49,117.51 L346.64,116.78 L346.78,116.05 L346.91,115.31 L347.04,114.58 L347.16,113.84 L347.28,113.10 L347.40,112.36 L347.54,111.63 L347.68,110.90 L347.83,110.17 L348.00,109.46 L348.20,108.75 L348.42,108.05 L348.67,107.37 L348.95,106.70 L349.27,106.04 L349.62,105.40 L349.98,104.76 L350.36,104.13 L350.75,103.50 L351.14,102.86 L351.52,102.23 L351.88,101.58 L352.23,100.92 L352.55,100.26 L352.86,99.58 L353.15,98.90 L353.43,98.21 L353.71,97.52 L353.99,96.83 L354.27,96.14 L354.55,95.46 L354.85,94.78 L355.16,94.12 L355.48,93.46 L355.83,92.81 L356.20,92.18 L356.59,91.56 L356.99,90.95 L357.41,90.35 L357.85,89.76 L358.30,89.17 L358.75,88.59 L359.22,88.02 L359.70,87.45 L360.18,86.88 L360.66,86.32 L361.15,85.75 L361.63,85.19 L362.12,84.62 L362.60,84.05 L363.08,83.48 L363.56,82.91 L364.04,82.34 L364.52,81.77 L364.99,81.20 L365.47,80.63 L365.95,80.05 L366.43,79.48 L366.90,78.92 L367.39,78.35 L367.87,77.79 L368.35,77.23 L368.84,76.67 L369.33,76.12 L369.83,75.57 L370.32,75.02 L370.83,74.48 L371.33,73.94 L371.85,73.41 L372.36,72.89 L372.89,72.37 L373.42,71.86 L373.96,71.36 L374.50,70.87 L375.05,70.38 L375.61,69.90 L376.18,69.43 L376.76,68.97 L377.34,68.52 L377.93,68.07 L378.53,67.64 L379.13,67.21 L379.75,66.80 L380.37,66.39 L380.99,65.99 L381.62,65.60 L382.26,65.21 L382.90,64.84 L383.55,64.47 L384.20,64.12 L384.86,63.77 L385.52,63.42 L386.18,63.09 L386.85,62.77 L387.52,62.45 L388.20,62.14 L388.88,61.85 L389.56,61.56 L390.25,61.28 L390.94,61.01 L391.63,60.75 L392.33,60.51 L393.03,60.27 L393.73,60.05 L394.44,59.84 L395.15,59.64 L395.86,59.45 L396.57,59.27 L397.29,59.11 L398.00,58.96 L398.72,58.83 L399.45,58.71 L400.17,58.60 L400.90,58.51 L401.62,58.42 L402.35,58.36 L403.09,58.30 L403.82,58.25 L404.55,58.22 L405.29,58.20 L406.02,58.19 L406.76,58.19 L407.50,58.21 L408.23,58.23 L408.97,58.26 L409.71,58.31 L410.45,58.36 L411.19,58.42 L411.93,58.49 L412.67,58.58 L413.41,58.67 L414.15,58.76 L414.88,58.87 L415.62,58.99 L416.36,59.11 L417.09,59.24 L417.83,59.38 L418.56,59.52 L419.29,59.67 L420.02,59.83 L420.75,60.00 L421.48,60.17 L422.20,60.35 L422.93,60.53 L423.65,60.72 L424.37,60.92 L425.09,61.12 L425.80,61.33 L426.52,61.54 L427.23,61.77 L427.93,62.00 L428.64,62.23 L429.34,62.47 L430.04,62.72 L430.74,62.98 L431.43,63.24 L432.13,63.51 L432.81,63.78 L433.50,64.07 L434.18,64.36 L434.86,64.65 L435.53,64.95 L436.20,65.26 L436.87,65.58 L437.53,65.90 L438.19,66.23 L438.85,66.57 L439.50,66.92 L440.15,67.27 L440.79,67.63 L441.43,67.99 L442.06,68.36 L442.69,68.74 L443.31,69.13 L443.94,69.52 L444.55,69.92 L445.16,70.33 L445.77,70.74 L446.37,71.16 L446.97,71.58 L447.57,72.01 L448.16,72.45 L448.75,72.89 L449.34,73.34 L449.92,73.79 L450.50,74.24 L451.08,74.70 L451.65,75.17 L452.22,75.64 L452.79,76.11 L453.35,76.59 L453.92,77.07 L454.48,77.55 L455.03,78.04 L455.59,78.53 L456.14,79.02 L456.70,79.52 L457.25,80.02 L457.80,80.52 L458.34,81.02 L458.89,81.53 L459.43,82.03 L459.98,82.54 L460.52,83.05 L461.06,83.56 L461.60,84.08 L462.14,84.59 L462.68,85.10 L463.22,85.62 L463.76,86.14 L464.30,86.65 L464.83,87.17 L465.37,87.68 L465.91,88.20 L466.45,88.71 L466.98,89.23 L467.52,89.74 L468.06,90.25 L468.60,90.76 L469.14,91.27 L469.68,91.78 L470.23,92.29 L470.77,92.79 L471.32,93.30 L471.86,93.80 L472.41,94.29 L472.96,94.79 L473.51,95.28 L474.06,95.77 L474.62,96.26 L475.17,96.74 L475.73,97.22 L476.29,97.69 L476.85,98.16 L477.42,98.63 L477.99,99.09 L478.56,99.55 L479.13,100.00 L479.71,100.45 L480.29,100.89 L480.88,101.32 L481.47,101.74 L482.07,102.15 L482.68,102.55 L483.30,102.93 L483.92,103.29 L484.56,103.64 L485.21,103.96 L485.88,104.27 L486.55,104.55 L487.24,104.81 L487.95,105.04 L488.67,105.25 L489.40,105.44 L490.14,105.61 L490.89,105.77 L491.64,105.93 L492.39,106.08 L493.14,106.24 L493.89,106.40 L494.62,106.59 L495.35,106.78 L496.06,107.01 L496.75,107.26 L497.42,107.54 L498.07,107.86 L498.70,108.22 L499.30,108.62 L499.88,109.07 L500.44,109.57 L500.97,110.11 L501.48,110.71" stroke="#1477c2" stroke-width="1.15" fill="none" stroke-linejoin="round"/>
<path d="M306.50,165.30 L320.70,165.28 L320.98,164.64 L321.26,163.99 L321.54,163.32 L321.84,162.66 L322.13,161.99 L322.44,161.32 L322.75,160.65 L323.08,159.99 L323.42,159.34 L323.78,158.70 L324.15,158.07 L324.55,157.46 L324.96,156.87 L325.39,156.30 L325.85,155.75 L326.33,155.23 L326.85,154.74 L327.39,154.29 L327.96,153.87 L328.56,153.48 L329.19,153.14 L329.85,152.82 L330.52,152.52 L331.21,152.25 L331.92,151.99 L332.62,151.74 L333.33,151.49 L334.04,151.24 L334.74,150.98 L335.42,150.71 L336.09,150.42 L336.74,150.11 L337.36,149.77 L337.95,149.40 L338.51,149.00 L339.02,148.55 L339.51,148.06 L339.96,147.54 L340.38,146.99 L340.77,146.40 L341.13,145.79 L341.47,145.16 L341.79,144.51 L342.10,143.84 L342.38,143.15 L342.66,142.46 L342.92,141.75 L343.17,141.04 L343.42,140.32 L343.66,139.61 L343.91,138.90 L344.15,138.18 L344.39,137.48 L344.62,136.77 L344.86,136.07 L345.10,135.37 L345.33,134.67 L345.56,133.97 L345.79,133.28 L346.02,132.58 L346.25,131.89 L346.47,131.20 L346.70,130.51 L346.92,129.82 L347.14,129.13 L347.36,128.45 L347.57,127.76 L347.78,127.07 L347.99,126.39 L348.20,125.70 L348.41,125.02 L348.61,124.33 L348.81,123.64 L349.01,122.95 L349.20,122.26 L349.39,121.57 L349.58,120.88 L349.77,120.19 L349.95,119.50 L350.13,118.80 L350.30,118.11 L350.47,117.41 L350.64,116.71 L350.81,116.00 L350.97,115.30 L351.13,114.59 L351.28,113.88 L351.43,113.16 L351.58,112.45 L351.72,111.73 L351.86,111.00 L351.99,110.28 L352.12,109.55 L352.25,108.81 L352.37,108.07 L352.48,107.33 L352.60,106.59 L352.72,105.85 L352.84,105.10 L352.96,104.36 L353.09,103.62 L353.23,102.88 L353.37,102.15 L353.53,101.43 L353.70,100.71 L353.89,100.00 L354.09,99.30 L354.31,98.62 L354.55,97.94 L354.81,97.28 L355.10,96.63 L355.41,96.00 L355.75,95.38 L356.12,94.78 L356.51,94.20 L356.94,93.65 L357.40,93.12 L357.90,92.61 L358.42,92.14 L358.97,91.70 L359.55,91.30 L360.15,90.93 L360.76,90.57 L361.37,90.21 L361.97,89.84 L362.56,89.43 L363.13,89.01 L363.68,88.56 L364.23,88.09 L364.76,87.60 L365.29,87.11 L365.80,86.60 L366.31,86.08 L366.82,85.55 L367.32,85.02 L367.83,84.49 L368.33,83.96 L368.84,83.43 L369.35,82.91 L369.87,82.40 L370.39,81.90 L370.92,81.41 L371.46,80.93 L372.00,80.47 L372.55,80.01 L373.11,79.56 L373.68,79.12 L374.25,78.68 L374.83,78.25 L375.41,77.82 L376.00,77.40 L376.59,76.98 L377.18,76.56 L377.78,76.14 L378.39,75.72 L379.00,75.31 L379.61,74.90 L380.23,74.50 L380.85,74.10 L381.48,73.70 L382.11,73.32 L382.74,72.94 L383.38,72.57 L384.03,72.21 L384.67,71.85 L385.33,71.51 L385.98,71.18 L386.64,70.86 L387.30,70.56 L387.97,70.27 L388.65,69.99 L389.32,69.73 L390.00,69.49 L390.69,69.26 L391.38,69.04 L392.07,68.85 L392.76,68.67 L393.46,68.50 L394.17,68.35 L394.87,68.22 L395.58,68.10 L396.29,67.99 L397.01,67.89 L397.72,67.81 L398.44,67.74 L399.16,67.69 L399.88,67.64 L400.61,67.61 L401.33,67.59 L402.06,67.58 L402.79,67.58 L403.52,67.59 L404.25,67.60 L404.98,67.63 L405.71,67.67 L406.44,67.72 L407.17,67.77 L407.90,67.83 L408.63,67.90 L409.36,67.97 L410.09,68.06 L410.82,68.15 L411.55,68.24 L412.28,68.34 L413.00,68.45 L413.73,68.56 L414.45,68.68 L415.17,68.80 L415.89,68.93 L416.61,69.07 L417.33,69.21 L418.04,69.37 L418.75,69.52 L419.46,69.69 L420.16,69.87 L420.87,70.05 L421.57,70.24 L422.26,70.44 L422.96,70.65 L423.65,70.87 L424.33,71.09 L425.02,71.33 L425.69,71.57 L426.37,71.83 L427.04,72.09 L427.71,72.36 L428.37,72.65 L429.03,72.94 L429.68,73.25 L430.33,73.57 L430.97,73.89 L431.61,74.23 L432.24,74.58 L432.87,74.94 L433.50,75.30 L434.12,75.68 L434.74,76.06 L435.36,76.44 L435.97,76.83 L436.59,77.23 L437.21,77.62 L437.82,78.02 L438.44,78.42 L439.05,78.81 L439.67,79.21 L440.29,79.60 L440.91,79.99 L441.54,80.38 L442.17,80.76 L442.80,81.13 L443.44,81.50 L444.08,81.87 L444.72,82.23 L445.36,82.59 L446.00,82.95 L446.63,83.31 L447.27,83.68 L447.90,84.04 L448.53,84.42 L449.15,84.79 L449.77,85.18 L450.38,85.57 L450.99,85.97 L451.58,86.38 L452.18,86.79 L452.76,87.22 L453.34,87.65 L453.91,88.08 L454.48,88.53 L455.04,88.98 L455.60,89.43 L456.15,89.90 L456.70,90.36 L457.24,90.84 L457.78,91.31 L458.32,91.80 L458.85,92.28 L459.38,92.78 L459.91,93.27 L460.43,93.77 L460.96,94.28 L461.48,94.78 L461.99,95.29 L462.51,95.80 L463.02,96.32 L463.54,96.83 L464.05,97.35 L464.56,97.87 L465.08,98.39 L465.59,98.92 L466.10,99.44 L466.61,99.97 L467.13,100.49 L467.64,101.01 L468.16,101.54 L468.67,102.06 L469.19,102.59 L469.71,103.11 L470.24,103.63 L470.76,104.15 L471.29,104.66 L471.82,105.17 L472.36,105.68 L472.89,106.18 L473.44,106.68 L473.98,107.17 L474.53,107.66 L475.09,108.14 L475.64,108.61 L476.21,109.07 L476.78,109.52 L477.35,109.97 L477.93,110.40 L478.52,110.83 L479.11,111.24 L479.71,111.64 L480.32,112.03 L480.93,112.41 L481.55,112.77 L482.18,113.12 L482.82,113.45 L483.46,113.77 L484.11,114.07 L484.77,114.36 L485.44,114.63 L486.12,114.88 L486.81,115.11 L487.51,115.32 L488.21,115.52 L488.93,115.70 L489.65,115.86 L490.38,116.01 L491.11,116.16 L491.84,116.31 L492.57,116.45 L493.29,116.61 L494.02,116.77 L494.73,116.94 L495.43,117.14 L496.12,117.35 L496.80,117.59 L497.47,117.86 L498.11,118.16 L498.74,118.50 L499.34,118.88 L499.92,119.31 L500.47,119.78 L501.00,120.31 L501.49,120.89" stroke="#0fae72" stroke-width="1.15" fill="none" stroke-linejoin="round"/>
<text x="36.4" y="167.9" font-size="11.5" text-anchor="end" >0.0</text>
<text x="36.4" y="135.9" font-size="11.5" text-anchor="end" >0.3</text>
<text x="36.4" y="103.9" font-size="11.5" text-anchor="end" >0.6</text>
<text x="36.4" y="71.8" font-size="11.5" text-anchor="end" >0.9</text>
<text x="36.4" y="39.8" font-size="11.5" text-anchor="end" >1.2</text>
<text x="36.4" y="7.8" font-size="11.5" text-anchor="end" >1.5</text>
<text x="42.2" y="178.3" font-size="11.5" text-anchor="middle" >200</text>
<text x="81.7" y="178.3" font-size="11.5" text-anchor="middle" >240</text>
<text x="121.5" y="178.3" font-size="11.5" text-anchor="middle" >280</text>
<text x="161.3" y="178.3" font-size="11.5" text-anchor="middle" >320</text>
<text x="200.8" y="178.3" font-size="11.5" text-anchor="middle" >360</text>
<text x="240.5" y="178.3" font-size="11.5" text-anchor="middle" >400</text>
<text x="301.0" y="167.7" font-size="11.5" text-anchor="end" >0.0</text>
<text x="301.0" y="131.7" font-size="11.5" text-anchor="end" >0.3</text>
<text x="301.0" y="95.7" font-size="11.5" text-anchor="end" >0.6</text>
<text x="301.0" y="59.7" font-size="11.5" text-anchor="end" >0.9</text>
<text x="301.0" y="23.7" font-size="11.5" text-anchor="end" >1.2</text>
<text x="306.3" y="178.5" font-size="11.5" text-anchor="middle" >200</text>
<text x="355.3" y="178.5" font-size="11.5" text-anchor="middle" >250</text>
<text x="403.5" y="178.5" font-size="11.5" text-anchor="middle" >300</text>
<text x="452.3" y="178.5" font-size="11.5" text-anchor="middle" >350</text>
<text x="501.3" y="178.5" font-size="11.5" text-anchor="middle" >400</text>
<text x="141.4" y="196.5" font-size="12.0" text-anchor="middle" ><tspan font-style="italic">t</tspan> (ns)</text>
<text x="404.0" y="196.5" font-size="12.0" text-anchor="middle" ><tspan font-style="italic">t</tspan> (ns)</text>
<g transform="translate(10.0,84.4) rotate(-90)"><text x="0.0" y="0.0" font-size="12.2" text-anchor="middle" ><tspan font-style="italic">U</tspan><tspan font-size="7.3" letter-spacing="-0.3" dy="5">load</tspan><tspan dx="1.7" dy="-5">(MV)</tspan></text>
</g>
<g transform="translate(273.5,86.3) rotate(-90)"><text x="0.0" y="0.0" font-size="12.2" text-anchor="middle" ><tspan font-style="italic">I</tspan><tspan font-size="7.3" letter-spacing="-0.3" dx="-1.2" dy="5">load</tspan><tspan dx="2.4" dy="-5">(MA)</tspan></text>
</g>
<path d="M42.0,221.5 H63.0" stroke="#707070" stroke-width="1.2"/>
<text x="70.0" y="221.3" font-size="11.0" text-anchor="start" ><tspan font-style="italic">R</tspan><tspan font-size="7.1" letter-spacing="-0.12" dy="4.1">load_</tspan><tspan font-size="6.6" letter-spacing="0">A</tspan><tspan dx="0.5" dy="-4.1" font-size="11.6">=0.59</tspan><tspan dx="3.8" font-size="11.8">Ω</tspan></text>
<path d="M42.0,236.5 H63.0" stroke="#ef4a3a" stroke-width="1.2"/>
<text x="70.0" y="236.3" font-size="11.0" text-anchor="start" ><tspan font-style="italic">R</tspan><tspan font-size="7.1" letter-spacing="-0.12" dy="4.1">load_</tspan><tspan font-size="6.6" letter-spacing="0">A</tspan><tspan dx="0.5" dy="-4.1" font-size="11.6">=0.78</tspan><tspan dx="3.8" font-size="11.8">Ω</tspan></text>
<path d="M42.0,251.5 H63.0" stroke="#1477c2" stroke-width="1.2"/>
<text x="70.0" y="251.3" font-size="11.0" text-anchor="start" ><tspan font-style="italic">R</tspan><tspan font-size="7.1" letter-spacing="-0.12" dy="4.1">load_</tspan><tspan font-size="6.6" letter-spacing="0">A</tspan><tspan dx="0.5" dy="-4.1" font-size="11.6">=0.98</tspan><tspan dx="3.8" font-size="11.8">Ω</tspan></text>
<path d="M42.0,266.5 H63.0" stroke="#0fae72" stroke-width="1.2"/>
<text x="70.0" y="266.3" font-size="11.0" text-anchor="start" ><tspan font-style="italic">R</tspan><tspan font-size="7.1" letter-spacing="-0.12" dy="4.1">load_</tspan><tspan font-size="6.6" letter-spacing="0">A</tspan><tspan dx="0.5" dy="-4.1" font-size="11.6">=1.20</tspan><tspan dx="3.8" font-size="11.8">Ω</tspan></text>
<path d="M306.0,219.5 H327.0" stroke="#707070" stroke-width="1.2"/>
<text x="334.3" y="219.3" font-size="11.0" text-anchor="start" ><tspan font-style="italic">R</tspan><tspan font-size="7.1" letter-spacing="-0.12" dy="4.1">load_</tspan><tspan font-size="6.6" letter-spacing="0">A</tspan><tspan dx="0.5" dy="-4.1" font-size="11.6">=0.59</tspan><tspan dx="3.8" font-size="11.8">Ω</tspan></text>
<path d="M306.0,234.5 H327.0" stroke="#ef4a3a" stroke-width="1.2"/>
<text x="334.3" y="234.3" font-size="11.0" text-anchor="start" ><tspan font-style="italic">R</tspan><tspan font-size="7.1" letter-spacing="-0.12" dy="4.1">load_</tspan><tspan font-size="6.6" letter-spacing="0">A</tspan><tspan dx="0.5" dy="-4.1" font-size="11.6">=0.78</tspan><tspan dx="3.8" font-size="11.8">Ω</tspan></text>
<path d="M306.0,250.3 H327.0" stroke="#1477c2" stroke-width="1.2"/>
<text x="334.3" y="250.1" font-size="11.0" text-anchor="start" ><tspan font-style="italic">R</tspan><tspan font-size="7.1" letter-spacing="-0.12" dy="4.1">load_</tspan><tspan font-size="6.6" letter-spacing="0">A</tspan><tspan dx="0.5" dy="-4.1" font-size="11.6">=0.98</tspan><tspan dx="3.8" font-size="11.8">Ω</tspan></text>
<path d="M306.0,265.3 H327.0" stroke="#0fae72" stroke-width="1.2"/>
<text x="334.3" y="265.1" font-size="11.0" text-anchor="start" ><tspan font-style="italic">R</tspan><tspan font-size="7.1" letter-spacing="-0.12" dy="4.1">load_</tspan><tspan font-size="6.6" letter-spacing="0">A</tspan><tspan dx="0.5" dy="-4.1" font-size="11.6">=1.20</tspan><tspan dx="3.8" font-size="11.8">Ω</tspan></text>
<text x="124.8" y="292.9" font-size="11.5" text-anchor="middle" >(a)</text>
<text x="387.2" y="292.9" font-size="11.5" text-anchor="middle" >(b)</text>
</svg>
</body></html>
